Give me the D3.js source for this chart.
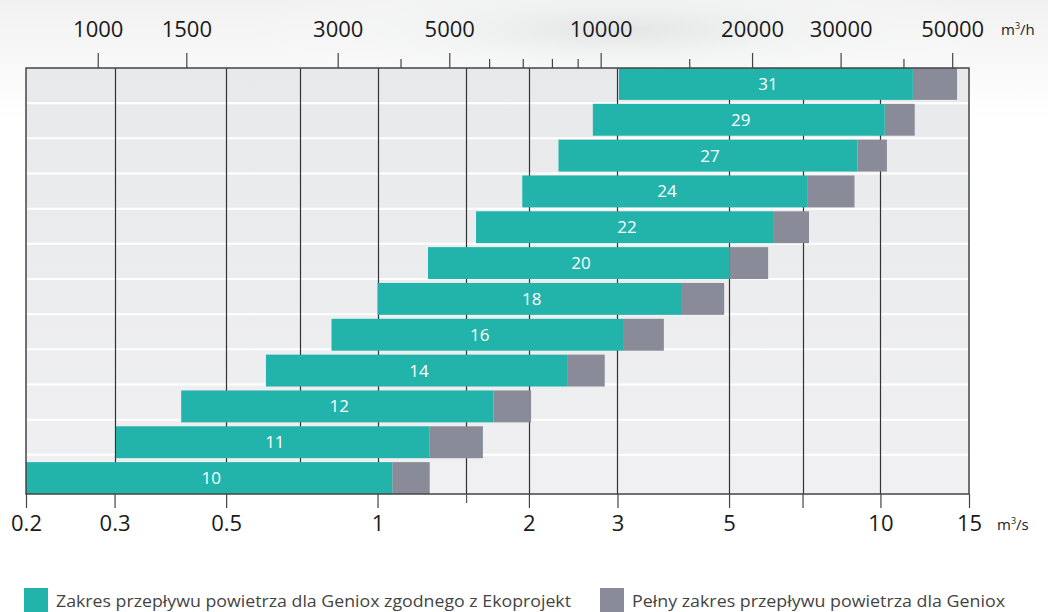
<!DOCTYPE html>
<html>
<head>
<meta charset="utf-8">
<script src="https://cdn.jsdelivr.net/npm/d3@7"></script>
<style>
  body { margin: 0; background: #fff; }
  svg { display: block; font-family: "Open Sans", "Noto Sans", sans-serif; }
</style>
</head>
<body>
<div id="chart"></div>
<script>
// unit sizes (Geniox) and airflow ranges in m3/s
var sizes = ["31", "29", "27", "24", "22", "20", "18", "16", "14", "12", "11", "10"];
var ecoStart = [3.02, 2.68, 2.29, 1.94, 1.57, 1.26, 1.0, 0.81, 0.60, 0.407, 0.302, 0.2];
var ecoEnd = [11.6, 10.2, 9.0, 7.17, 6.14, 5.02, 4.03, 3.09, 2.39, 1.70, 1.27, 1.07];
var fullEnd = [14.2, 11.7, 10.3, 8.88, 7.21, 5.98, 4.89, 3.71, 2.83, 2.02, 1.62, 1.27];

var bottomLabels = [0.2, 0.3, 0.5, 1, 2, 3, 5, 10, 15];
var gridValues = [0.3, 0.5, 0.7, 1, 1.5, 2, 3, 5, 7, 10];
var topMajor = [1000, 1500, 3000, 5000, 10000, 20000, 30000, 50000];
var topMinor = [4000, 6000, 7000, 8000, 9000, 15000, 40000];

var legendItems = ["Zakres przepływu powietrza dla Geniox zgodnego z Ekoprojekt",
                   "Pełny zakres przepływu powietrza dla Geniox"];

var W = 1048, H = 612;
var margin = { left: 26, right: 969, top: 68, bottom: 494 };
var teal = "#22b3ab", grey = "#898c98";

var data = sizes.map(function(s, i) {
  return { size: s, a: ecoStart[i], b: ecoEnd[i], c: fullEnd[i] };
});

var svg = d3.select("#chart").append("svg")
  .attr("width", W).attr("height", H);

var defs = svg.append("defs");
var bgGrad = defs.append("radialGradient").attr("id", "swoosh")
  .attr("cx", 0.5).attr("cy", 0.5).attr("r", 0.5);
bgGrad.append("stop").attr("offset", "0%").attr("stop-color", "#e2e5e5");
bgGrad.append("stop").attr("offset", "100%").attr("stop-color", "#ffffff").attr("stop-opacity", 0);

var topGrad = defs.append("linearGradient").attr("id", "topfade")
  .attr("x1", 0).attr("y1", 0).attr("x2", 0).attr("y2", 1);
topGrad.append("stop").attr("offset", "0%").attr("stop-color", "#f1f1f1");
topGrad.append("stop").attr("offset", "100%").attr("stop-color", "#ffffff");

var plotGrad = defs.append("linearGradient").attr("id", "plotbg")
  .attr("x1", 0).attr("y1", 0).attr("x2", 0).attr("y2", 1);
plotGrad.append("stop").attr("offset", "0%").attr("stop-color", "#e8e9eb");
plotGrad.append("stop").attr("offset", "100%").attr("stop-color", "#f0f0f2");

// faint background swoosh behind the top axis
svg.append("rect").attr("width", W).attr("height", 120).attr("fill", "url(#topfade)");
svg.append("ellipse").attr("cx", 620).attr("cy", 30).attr("rx", 380).attr("ry", 60)
  .attr("fill", "url(#swoosh)");

var x = d3.scaleLog().domain([0.2, 15]).range([margin.left, margin.right]);
var xh = d3.scaleLog().domain([0.2 * 3600, 15 * 3600]).range([margin.left, margin.right]);

var y = d3.scaleBand().domain(sizes).range([margin.top, margin.bottom])
  .paddingInner(0.11).paddingOuter(0);
var yRow = d3.scaleLinear().domain([0, 12]).range([margin.top, margin.bottom - 4]);

// plot background
svg.append("rect")
  .attr("x", margin.left).attr("y", margin.top)
  .attr("width", margin.right - margin.left).attr("height", margin.bottom - margin.top)
  .attr("fill", "url(#plotbg)");

// white row separators
svg.append("g").selectAll("line")
  .data(d3.range(1, 12))
  .join("line")
  .attr("x1", margin.left).attr("x2", margin.right)
  .attr("y1", function(k) { return yRow(k); })
  .attr("y2", function(k) { return yRow(k); })
  .attr("stroke", "#fff").attr("stroke-width", 2);

// vertical grid lines
svg.append("g").selectAll("line")
  .data(gridValues)
  .join("line")
  .attr("x1", function(d) { return Math.round(x(d)) + 0.5; })
  .attr("x2", function(d) { return Math.round(x(d)) + 0.5; })
  .attr("y1", margin.top).attr("y2", margin.bottom)
  .attr("stroke", "#333").attr("stroke-width", 1.2);

// bars
var bars = svg.append("g").selectAll("g")
  .data(data)
  .join("g");

bars.append("rect")
  .attr("x", function(d) { return x(d.b); })
  .attr("y", function(d) { return y(d.size); })
  .attr("width", function(d) { return x(d.c) - x(d.b); })
  .attr("height", y.bandwidth())
  .attr("fill", grey);

bars.append("rect")
  .attr("x", function(d) { return x(d.a); })
  .attr("y", function(d) { return y(d.size); })
  .attr("width", function(d) { return x(d.b) - x(d.a); })
  .attr("height", y.bandwidth())
  .attr("fill", teal);

bars.append("text")
  .attr("x", function(d) { return (x(d.a) + x(d.b)) / 2 + 2; })
  .attr("y", function(d) { return y(d.size) + y.bandwidth() / 2 + 6; })
  .attr("text-anchor", "middle")
  .attr("fill", "#fff")
  .style("font-size", "17px")
  .text(function(d) { return d.size; });

// frame
svg.append("rect")
  .attr("x", margin.left).attr("y", margin.top)
  .attr("width", margin.right - margin.left).attr("height", margin.bottom - margin.top)
  .attr("fill", "none").attr("stroke", "#444").attr("stroke-width", 1.5);

// bottom axis (m3/s)
var xAxis = d3.axisBottom(x)
  .tickValues(bottomLabels.concat([7]))
  .tickSize(14)
  .tickFormat(function(d) { return bottomLabels.indexOf(d) >= 0 ? d : ""; });

var gx = svg.append("g")
  .attr("transform", "translate(0," + margin.bottom + ")")
  .call(xAxis)
  .attr("font-family", null).attr("font-size", null);
gx.select(".domain").remove();
gx.selectAll(".tick line").attr("stroke", "#444").attr("stroke-width", 1.2);
gx.selectAll(".tick text")
  .attr("y", 21).attr("dy", "0.71em")
  .attr("fill", "#1a1a1a")
  .style("font-size", "22px");

var gx2 = svg.append("g")
  .attr("transform", "translate(0," + margin.bottom + ")")
  .call(d3.axisBottom(x).tickValues([1.5]).tickSize(9).tickFormat(""));
gx2.select(".domain").remove();
gx2.selectAll(".tick line").attr("stroke", "#555").attr("stroke-width", 1.2);

// top axis (m3/h)
var gt = svg.append("g")
  .attr("transform", "translate(0," + margin.top + ")")
  .call(d3.axisTop(xh).tickValues(topMajor).tickSize(15).tickFormat(d3.format("d")))
  .attr("font-family", null).attr("font-size", null);
gt.select(".domain").remove();
gt.selectAll(".tick line").attr("stroke", "#444").attr("stroke-width", 1.2);
gt.selectAll(".tick text")
  .attr("y", -31)
  .attr("fill", "#1a1a1a")
  .style("font-size", "22px");

var gtm = svg.append("g")
  .attr("transform", "translate(0," + margin.top + ")")
  .call(d3.axisTop(xh).tickValues(topMinor).tickSize(9).tickFormat(""));
gtm.select(".domain").remove();
gtm.selectAll(".tick line").attr("stroke", "#444").attr("stroke-width", 1.2);

// unit labels
var unitH = svg.append("text").attr("x", 1001).attr("y", 35)
  .attr("fill", "#222").style("font-size", "15px");
unitH.append("tspan").text("m");
unitH.append("tspan").attr("dy", -6).style("font-size", "9px").text("3");
unitH.append("tspan").attr("dy", 6).text("/h");

var unitS = svg.append("text").attr("x", 997).attr("y", 530)
  .attr("fill", "#222").style("font-size", "15px");
unitS.append("tspan").text("m");
unitS.append("tspan").attr("dy", -6).style("font-size", "9px").text("3");
unitS.append("tspan").attr("dy", 6).text("/s");

// legend
var legendX = [24, 600];
var legendW = [515, 373];
var legendColors = [teal, grey];
var lg = svg.append("g").selectAll("g")
  .data(legendItems)
  .join("g")
  .attr("transform", function(d, i) { return "translate(" + legendX[i] + ",588)"; });

lg.append("rect")
  .attr("width", 24).attr("height", 24)
  .attr("fill", function(d, i) { return legendColors[i]; });

lg.append("text")
  .attr("x", 32).attr("y", 19)
  .attr("fill", "#444")
  .style("font-size", "17px")
  .attr("textLength", function(d, i) { return legendW[i]; })
  .attr("lengthAdjust", "spacingAndGlyphs")
  .text(function(d) { return d; });
</script>
</body>
</html>
